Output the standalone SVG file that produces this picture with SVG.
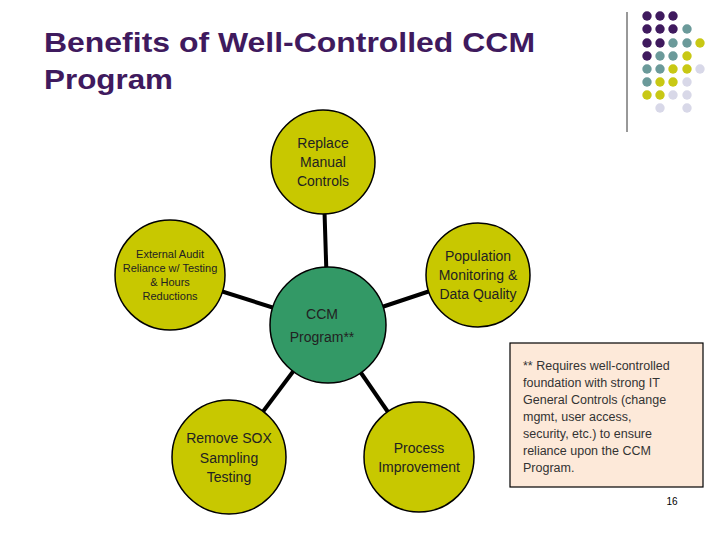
<svg xmlns="http://www.w3.org/2000/svg" width="720" height="540" viewBox="0 0 720 540">
<style>
.n{fill:#c8c800;stroke:#000;stroke-width:1.5}
.t{font-family:"Liberation Sans",Arial,sans-serif;font-size:14px;fill:#222;text-anchor:middle}
.s{font-size:11px}
.P{fill:#3f1a5e}.T{fill:#6b9a9a}.Y{fill:#c8c814}.L{fill:#d8d8e8}
</style>
<rect width="720" height="540" fill="#fff"/>
<text x="44" y="52" font-family="Liberation Sans,Arial,sans-serif" font-size="28" font-weight="bold" fill="#3f1a5e" textLength="491" lengthAdjust="spacingAndGlyphs">Benefits of Well-Controlled CCM</text>
<text x="44" y="89" font-family="Liberation Sans,Arial,sans-serif" font-size="28" font-weight="bold" fill="#3f1a5e" textLength="129" lengthAdjust="spacingAndGlyphs">Program</text>
<line x1="627" y1="12" x2="627" y2="132" stroke="#333" stroke-width="1"/>
<g id="dots">
<circle class="P" cx="647" cy="16" r="4.7"/><circle class="P" cx="660" cy="16" r="4.7"/><circle class="P" cx="673" cy="16" r="4.7"/>
<circle class="P" cx="647" cy="29" r="4.7"/><circle class="P" cx="660" cy="29" r="4.7"/><circle class="P" cx="673" cy="29" r="4.7"/><circle class="T" cx="687" cy="29" r="4.7"/>
<circle class="P" cx="647" cy="43" r="4.7"/><circle class="P" cx="660" cy="43" r="4.7"/><circle class="T" cx="673" cy="43" r="4.7"/><circle class="T" cx="687" cy="43" r="4.7"/><circle class="Y" cx="700" cy="43" r="4.7"/>
<circle class="P" cx="647" cy="56" r="4.7"/><circle class="T" cx="660" cy="56" r="4.7"/><circle class="T" cx="673" cy="56" r="4.7"/><circle class="Y" cx="687" cy="56" r="4.7"/>
<circle class="T" cx="647" cy="69" r="4.7"/><circle class="T" cx="660" cy="69" r="4.7"/><circle class="Y" cx="673" cy="69" r="4.7"/><circle class="Y" cx="687" cy="69" r="4.7"/><circle class="L" cx="700" cy="69" r="4.7"/>
<circle class="T" cx="647" cy="82" r="4.7"/><circle class="Y" cx="660" cy="82" r="4.7"/><circle class="Y" cx="673" cy="82" r="4.7"/><circle class="L" cx="687" cy="82" r="4.7"/>
<circle class="Y" cx="647" cy="95" r="4.7"/><circle class="Y" cx="660" cy="95" r="4.7"/><circle class="L" cx="673" cy="95" r="4.7"/><circle class="L" cx="687" cy="95" r="4.7"/>
<circle class="L" cx="660" cy="108" r="4.7"/><circle class="L" cx="687" cy="108" r="4.7"/>
</g>
<g id="connectors" stroke="#000" stroke-width="4">
<line x1="328" y1="325" x2="323" y2="162"/>
<line x1="328" y1="325" x2="170" y2="275"/>
<line x1="328" y1="325" x2="478" y2="275"/>
<line x1="328" y1="325" x2="229" y2="457"/>
<line x1="328" y1="325" x2="419" y2="457"/>
</g>
<g id="top"><circle class="n" cx="323" cy="162" r="52"/>
<text class="t" x="323" y="148">Replace</text><text class="t" x="323" y="167">Manual</text><text class="t" x="323" y="186">Controls</text></g>
<g id="left"><circle class="n" cx="170" cy="275" r="55"/>
<text class="t s" x="170" y="258">External Audit</text><text class="t s" x="170" y="272">Reliance w/ Testing</text><text class="t s" x="170" y="286">&amp; Hours</text><text class="t s" x="170" y="300">Reductions</text></g>
<g id="right"><circle class="n" cx="478" cy="275" r="52"/>
<text class="t" x="478" y="261">Population</text><text class="t" x="478" y="280">Monitoring &amp;</text><text class="t" x="478" y="299">Data Quality</text></g>
<g id="center"><circle cx="328" cy="325" r="58" fill="#339966" stroke="#000" stroke-width="1.5"/>
<text class="t" x="322" y="319">CCM</text><text class="t" x="322" y="342">Program**</text></g>
<g id="sox"><circle class="n" cx="229" cy="457" r="57"/>
<text class="t" x="229" y="443">Remove SOX</text><text class="t" x="229" y="463">Sampling</text><text class="t" x="229" y="482">Testing</text></g>
<g id="process"><circle class="n" cx="419" cy="457" r="55"/>
<text class="t" x="419" y="453">Process</text><text class="t" x="419" y="472">Improvement</text></g>
<g id="note"><rect x="510" y="343" width="193" height="144" fill="#fde9d9" stroke="#000" stroke-width="1.2"/>
<g font-family="Liberation Sans,Arial,sans-serif" font-size="12.5" fill="#333">
<text x="523" y="370">** Requires well-controlled</text><text x="523" y="387">foundation with strong IT</text><text x="523" y="404">General Controls (change</text><text x="523" y="421">mgmt, user access,</text><text x="523" y="438">security, etc.) to ensure</text><text x="523" y="455">reliance upon the CCM</text><text x="523" y="472">Program.</text></g></g>
<text x="672" y="505" font-family="Liberation Sans,Arial,sans-serif" font-size="10" fill="#000" text-anchor="middle">16</text>
</svg>
